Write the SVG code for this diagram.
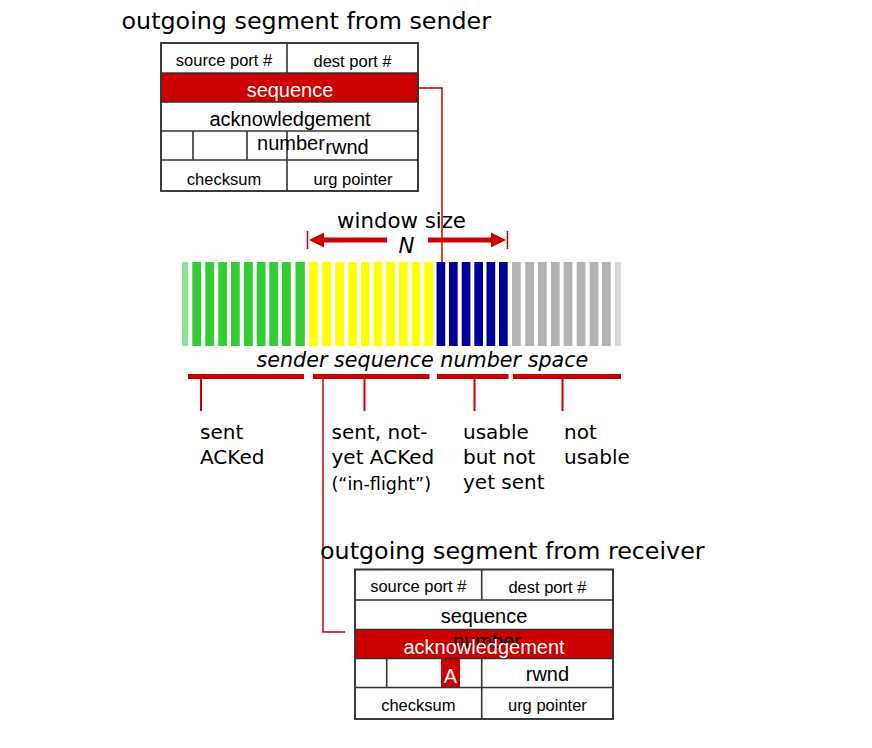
<svg xmlns="http://www.w3.org/2000/svg" width="872" height="748" viewBox="0 0 872 748">
<style>
.title{font-family:"DejaVu Sans",Verdana,sans-serif;font-size:23.8px;fill:#000}
.lbl{font-family:"DejaVu Sans",Verdana,sans-serif;font-size:20px;fill:#000}
.sm{font-family:"Liberation Sans",Arial,sans-serif;font-size:16.5px;fill:#000;text-anchor:middle}
.md{font-family:"Liberation Sans",Arial,sans-serif;font-size:20px;fill:#000;text-anchor:middle}
.wt{fill:#fff}
.box{fill:#fff;stroke:#333;stroke-width:1.6}
.ln{stroke:#333;stroke-width:1.6;fill:none}
.red{fill:#CC0000}
.rl{stroke:#CC0000;fill:none}
.g{fill:#33CC33}.y{fill:#FFFF00}.b{fill:#000099}.s{fill:#B3B3B3}
</style>

<g id="sender-title"><text class="title" x="121.5" y="29.3">outgoing segment from sender</text></g>

<g id="sender-segment">
<rect class="box" x="161" y="43" width="257" height="148"/>
<rect class="red" x="161" y="73" width="257" height="29"/>
<path class="ln" d="M161 73H418M161 102H418M161 131H418M161 160H418M287 43V73M287 131V191M193 131V160M247 131V160"/>
<rect x="161" y="43" width="257" height="148" fill="none" stroke="#333" stroke-width="1.6"/>
<text class="sm" x="224" y="66">source port #</text>
<text class="sm" x="352.5" y="66.5">dest port #</text>
<text class="md wt" x="290" y="96.5">sequence</text>
<text class="md" x="290" y="126">acknowledgement</text>
<text class="md" x="291" y="150">number</text>
<text class="md" x="347" y="154">rwnd</text>
<text class="sm" x="224" y="185">checksum</text>
<text class="sm" x="353" y="185">urg pointer</text>
</g>

<g id="window-size">
<text class="lbl" x="401.5" y="228" text-anchor="middle" style="font-size:21.3px">window size</text>
<text class="lbl" x="406.5" y="253" text-anchor="middle" style="font-size:21.3px;font-style:italic">N</text>
<line class="rl" x1="322" y1="240" x2="387" y2="240" stroke-width="5"/>
<polygon class="red" points="309,240 324,232.5 324,247.5"/>
<line class="rl" x1="428" y1="240" x2="493" y2="240" stroke-width="5"/>
<polygon class="red" points="506,240 491,232.5 491,247.5"/>
<line class="rl" x1="307.5" y1="231" x2="307.5" y2="249" stroke-width="1.5"/>
<line class="rl" x1="507.5" y1="231" x2="507.5" y2="249" stroke-width="1.5"/>
</g>

<g id="sequence-space">
<rect class="g" x="182" y="262" width="6" height="84" opacity="0.55"/>
<rect class="g" x="192.3" y="262" width="8.8" height="84"/>
<rect class="g" x="205.3" y="262" width="8.8" height="84"/>
<rect class="g" x="218.3" y="262" width="8.8" height="84"/>
<rect class="g" x="231" y="262" width="8.8" height="84"/>
<rect class="g" x="244" y="262" width="8.8" height="84"/>
<rect class="g" x="256.7" y="262" width="8.8" height="84"/>
<rect class="g" x="269.3" y="262" width="8.8" height="84"/>
<rect class="g" x="282" y="262" width="8.8" height="84"/>
<rect class="g" x="295.5" y="262" width="9.3" height="84"/>
<rect class="y" x="309.3" y="262" width="8.6" height="84"/>
<rect class="y" x="322.3" y="262" width="8.6" height="84"/>
<rect class="y" x="335.3" y="262" width="8.6" height="84"/>
<rect class="y" x="348.3" y="262" width="8.6" height="84"/>
<rect class="y" x="361" y="262" width="8.6" height="84"/>
<rect class="y" x="373.7" y="262" width="8.6" height="84"/>
<rect class="y" x="386.3" y="262" width="8.6" height="84"/>
<rect class="y" x="399" y="262" width="8.6" height="84"/>
<rect class="y" x="411.7" y="262" width="8.6" height="84"/>
<rect class="y" x="424.3" y="262" width="8.6" height="84"/>
<rect class="b" x="436.5" y="262" width="8.7" height="84"/>
<rect class="b" x="449" y="262" width="8.7" height="84"/>
<rect class="b" x="461.7" y="262" width="8.7" height="84"/>
<rect class="b" x="474.3" y="262" width="8.7" height="84"/>
<rect class="b" x="486.5" y="262" width="8.7" height="84"/>
<rect class="b" x="499" y="262" width="8.7" height="84"/>
<rect class="s" x="512" y="262" width="8.7" height="84"/>
<rect class="s" x="525.3" y="262" width="8.7" height="84"/>
<rect class="s" x="538" y="262" width="8.7" height="84"/>
<rect class="s" x="551" y="262" width="8.7" height="84"/>
<rect class="s" x="563.7" y="262" width="8.7" height="84"/>
<rect class="s" x="576.7" y="262" width="8.7" height="84"/>
<rect class="s" x="589.7" y="262" width="8.7" height="84"/>
<rect class="s" x="602" y="262" width="8.7" height="84"/>
<rect class="s" x="615" y="262" width="6" height="84" opacity="0.5"/>
<text class="lbl" x="256.5" y="366.7" style="font-size:20.7px;font-style:italic">sender sequence number space</text>
</g>

<g id="brackets">
<path class="rl" stroke-width="5" d="M188 376.5H304M313 376.5H429.5M437 376.5H508.5M513 376.5H621"/>
<path class="rl" stroke-width="2" d="M201 378V411M364.5 378V411M474.5 378V411M562.5 378V411"/>
</g>

<g id="label-sent-acked"><text class="lbl" x="200" y="438.5">sent</text><text class="lbl" x="200" y="464">ACKed</text></g>
<g id="label-in-flight"><text class="lbl" x="331.5" y="438.5">sent, not-</text><text class="lbl" x="331.5" y="464">yet ACKed</text><text class="lbl" x="331.5" y="490" style="font-size:17.6px">(“in-flight”)</text></g>
<g id="label-usable"><text class="lbl" x="463" y="438.5">usable</text><text class="lbl" x="463" y="464">but not</text><text class="lbl" x="463" y="489">yet sent</text></g>
<g id="label-not-usable"><text class="lbl" x="564" y="438.5">not</text><text class="lbl" x="564" y="464">usable</text></g>

<g id="connectors">
<polyline class="rl" stroke-width="1.5" points="418,88 442,88 442,263"/>
<polyline class="rl" stroke-width="1.5" points="323,378 323,632 345,632"/>
</g>

<g id="receiver-title"><text class="title" x="320" y="559.3">outgoing segment from receiver</text></g>

<g id="receiver-segment">
<rect class="box" x="355" y="569.5" width="258" height="149.5"/>
<rect class="red" x="355" y="629.5" width="258" height="29"/>
<rect class="red" x="441" y="658.5" width="19" height="29"/>
<path class="ln" d="M355 600H613M355 629.5H613M355 658.5H613M355 687.5H613M481.7 569.5V600M481.7 658.5V719M386.7 658.5V687.5"/>
<rect x="355" y="569.5" width="258" height="149.5" fill="none" stroke="#333" stroke-width="1.6"/>
<text class="sm" x="418.3" y="591.7">source port #</text>
<text class="sm" x="547.4" y="592.5">dest port #</text>
<text class="md" x="484" y="623.3">sequence</text>
<text class="md" x="487" y="648">number</text>
<text class="md wt" x="484" y="653.5">acknowledgement</text>
<text class="md wt" x="450.5" y="683">A</text>
<text class="md" x="547.4" y="681">rwnd</text>
<text class="sm" x="418.3" y="711">checksum</text>
<text class="sm" x="547.4" y="711">urg pointer</text>
</g>
</svg>
